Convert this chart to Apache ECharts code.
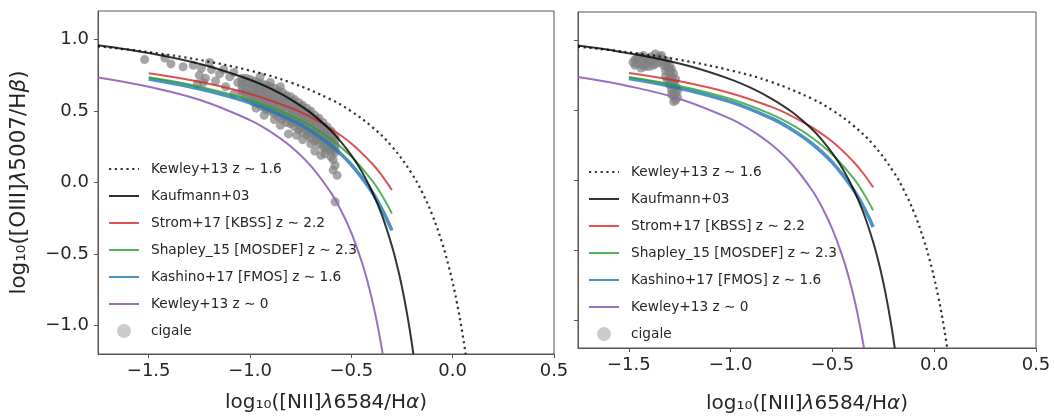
<!DOCTYPE html>
<html><head><meta charset="utf-8">
<script src="https://cdn.jsdelivr.net/npm/echarts@6/dist/echarts.min.js"></script>
<style>html,body{margin:0;padding:0;background:#fff}#c{width:1054px;height:419px}</style>
</head><body><div id="c"></div>
<script>
// ---- tick labels ----
const xTicks = [-1.5, -1.0, -0.5, 0.0, 0.5];
const yTicks = [-1.0, -0.5, 0.0, 0.5, 1.0];

// ---- legend names ----
const names = ['Kewley+13 z ∼ 1.6', 'Kaufmann+03', 'Strom+17 [KBSS] z ∼ 2.2',
  'Shapley_15 [MOSDEF] z ∼ 2.3', 'Kashino+17 [FMOS] z ∼ 1.6', 'Kewley+13 z ∼ 0', 'cigale'];

// ---- curves (x, y) ----
const kewley16 = [[-1.75,0.952],[-1.5,0.912],[-1.25,0.858],[-1.0,0.783],[-0.8,0.700],[-0.6,0.580],[-0.5,0.498],
  [-0.4,0.392],[-0.3,0.253],[-0.2,0.059],[-0.15,-0.070],[-0.1,-0.229],[-0.05,-0.432],[-0.02,-0.584],
  [0.0,-0.701],[0.02,-0.834],[0.04,-0.986],[0.064,-1.2]];
const kauffmann = [[-1.75,0.961],[-1.6,0.930],[-1.4,0.879],[-1.2,0.812],[-1.0,0.719],[-0.9,0.658],[-0.8,0.582],
  [-0.7,0.487],[-0.6,0.362],[-0.55,0.283],[-0.5,0.191],[-0.45,0.080],[-0.4,-0.056],[-0.35,-0.225],
  [-0.3,-0.443],[-0.27,-0.606],[-0.25,-0.733],[-0.23,-0.879],[-0.21,-1.046],[-0.194,-1.2]];
const strom = [[-1.5,0.765],[-1.25,0.705],[-1.0,0.620],[-0.8,0.522],[-0.7,0.457],[-0.6,0.376],[-0.5,0.273],
  [-0.4,0.136],[-0.35,0.050],[-0.3,-0.053]];
const shapley = [[-1.5,0.736],[-1.25,0.671],[-1.0,0.578],[-0.8,0.469],[-0.7,0.395],[-0.6,0.302],[-0.5,0.182],
  [-0.4,0.018],[-0.35,-0.088],[-0.3,-0.217]];
const kashino = [[-1.5,0.725],[-1.25,0.656],[-1.0,0.558],[-0.8,0.441],[-0.7,0.361],[-0.6,0.259],[-0.5,0.124],
  [-0.4,-0.062],[-0.35,-0.184],[-0.3,-0.335]];
const kewley0 = [[-1.75,0.735],[-1.5,0.670],[-1.25,0.579],[-1.0,0.437],[-0.9,0.356],[-0.8,0.253],[-0.7,0.116],
  [-0.6,-0.073],[-0.55,-0.198],[-0.5,-0.352],[-0.45,-0.549],[-0.42,-0.694],[-0.4,-0.806],[-0.38,-0.933],
  [-0.36,-1.079],[-0.345,-1.2]];

// ---- cigale points, left panel ----
const cigaleLeft = [
  [-1.52,0.86],[-1.42,0.87],[-1.39,0.83],[-1.33,0.81],[-1.28,0.82],[-1.24,0.80],[-1.25,0.75],[-1.22,0.73],
  [-1.26,0.69],[-1.23,0.70],[-1.19,0.79],[-1.15,0.76],[-1.17,0.71],[-1.12,0.67],[-1.10,0.74],[-1.08,0.62],
  [-1.06,0.70],[-1.13,0.79],[-1.08,0.77],[-1.20,0.84],[-0.95,0.74],[-0.90,0.70],[-0.85,0.67],
  [-1.04,0.73],[-1.04,0.70],[-1.04,0.67],[-1.04,0.64],[-1.04,0.62],
  [-1.02,0.73],[-1.02,0.70],[-1.02,0.66],[-1.02,0.63],[-1.02,0.60],
  [-1.00,0.72],[-1.00,0.69],[-1.00,0.66],[-1.00,0.62],[-1.00,0.59],
  [-0.98,0.71],[-0.98,0.68],[-0.98,0.65],[-0.98,0.62],[-0.98,0.59],[-0.98,0.56],
  [-0.96,0.70],[-0.96,0.67],[-0.96,0.64],[-0.96,0.61],[-0.96,0.58],[-0.96,0.55],
  [-0.94,0.69],[-0.94,0.66],[-0.94,0.63],[-0.94,0.60],[-0.94,0.56],[-0.94,0.53],
  [-0.92,0.68],[-0.92,0.65],[-0.92,0.62],[-0.92,0.58],[-0.92,0.55],[-0.92,0.51],
  [-0.90,0.67],[-0.90,0.64],[-0.90,0.60],[-0.90,0.57],[-0.90,0.53],[-0.90,0.50],
  [-0.88,0.66],[-0.88,0.62],[-0.88,0.59],[-0.88,0.55],[-0.88,0.52],[-0.88,0.48],
  [-0.86,0.64],[-0.86,0.61],[-0.86,0.57],[-0.86,0.54],[-0.86,0.50],[-0.86,0.46],
  [-0.84,0.63],[-0.84,0.59],[-0.84,0.56],[-0.84,0.52],[-0.84,0.48],[-0.84,0.44],
  [-0.82,0.61],[-0.82,0.58],[-0.82,0.54],[-0.82,0.50],[-0.82,0.46],[-0.82,0.42],
  [-0.80,0.60],[-0.80,0.56],[-0.80,0.52],[-0.80,0.48],[-0.80,0.45],[-0.80,0.41],
  [-0.78,0.58],[-0.78,0.54],[-0.78,0.51],[-0.78,0.47],[-0.78,0.43],[-0.78,0.39],
  [-0.76,0.56],[-0.76,0.52],[-0.76,0.49],[-0.76,0.45],[-0.76,0.41],[-0.76,0.37],
  [-0.74,0.54],[-0.74,0.50],[-0.74,0.47],[-0.74,0.43],[-0.74,0.39],[-0.74,0.35],
  [-0.72,0.52],[-0.72,0.48],[-0.72,0.44],[-0.72,0.41],[-0.72,0.37],[-0.72,0.33],
  [-0.70,0.50],[-0.70,0.46],[-0.70,0.42],[-0.70,0.39],[-0.70,0.35],[-0.70,0.31],
  [-0.68,0.47],[-0.68,0.44],[-0.68,0.40],[-0.68,0.36],[-0.68,0.33],[-0.68,0.29],
  [-0.66,0.45],[-0.66,0.41],[-0.66,0.38],[-0.66,0.34],[-0.66,0.31],[-0.66,0.27],
  [-0.64,0.42],[-0.64,0.39],[-0.64,0.35],[-0.64,0.32],[-0.64,0.28],[-0.64,0.25],
  [-0.62,0.39],[-0.62,0.36],[-0.62,0.33],[-0.62,0.29],[-0.62,0.26],[-0.62,0.23],
  [-0.60,0.36],[-0.60,0.33],[-0.60,0.30],[-0.60,0.27],[-0.60,0.24],[-0.60,0.22],
  [-0.58,0.32],[-0.58,0.29],[-0.58,0.26],[-0.58,0.23],[-0.58,0.21],
  [-0.91,0.655],[-0.91,0.585],[-0.91,0.515],[-0.87,0.63],[-0.87,0.56],[-0.87,0.49],
  [-0.83,0.60],[-0.83,0.53],[-0.83,0.46],[-0.79,0.57],[-0.79,0.50],[-0.79,0.42],
  [-0.75,0.53],[-0.75,0.46],[-0.75,0.38],[-0.71,0.49],[-0.71,0.42],[-0.71,0.34],
  [-0.67,0.44],[-0.67,0.37],[-0.67,0.30],[-0.63,0.38],[-0.63,0.31],[-0.63,0.245],
  [-0.93,0.47],[-0.88,0.44],[-0.81,0.34],[-0.77,0.33],[-0.74,0.30],[-0.70,0.27],[-0.68,0.22],
  [-0.65,0.19],[-0.63,0.20],[-0.59,0.16],[-0.58,0.12],[-0.59,0.087],[-0.57,0.05],[-0.58,-0.135],
  [-0.60,0.18],[-0.85,0.40],[-0.97,0.52]
];
// ---- cigale points, right panel ----
const cigaleRight = [
  [-1.47,0.86],[-1.46,0.83],[-1.45,0.88],[-1.44,0.85],[-1.43,0.82],[-1.42,0.87],[-1.41,0.84],[-1.40,0.81],
  [-1.39,0.88],[-1.38,0.85],[-1.37,0.90],[-1.36,0.87],[-1.35,0.84],[-1.34,0.89],[-1.33,0.86],[-1.32,0.83],
  [-1.44,0.80],[-1.47,0.82],[-1.46,0.87],[-1.43,0.89],[-1.40,0.86],[-1.37,0.83],[-1.35,0.88],[-1.33,0.82],
  [-1.31,0.85],[-1.30,0.82],[-1.48,0.84],[-1.42,0.81],[-1.38,0.82],
  [-1.31,0.80],[-1.30,0.77],[-1.32,0.74],[-1.29,0.74],[-1.31,0.71],[-1.28,0.70],[-1.30,0.68],[-1.27,0.67],
  [-1.29,0.64],[-1.27,0.62],[-1.28,0.60],[-1.26,0.59],[-1.27,0.57],[-1.28,0.56],[-1.26,0.64],[-1.30,0.79],
  [-1.29,0.79],[-1.28,0.76],[-1.30,0.72],[-1.29,0.69],[-1.28,0.65],[-1.29,0.61],[-1.27,0.72],[-1.32,0.78]
];

const font = 'DejaVu Sans';
const txt = '#262626';
const axisCol = '#555';
const fmt = v => (v < 0 ? '\u2212' : '') + Math.abs(v).toFixed(1);
function rich(size) {
  return {
    a: {fontFamily: font, fontSize: size, color: txt},
    i: {fontFamily: font, fontSize: size, color: txt, fontStyle: 'italic'}
  };
}
const xName = '{a|log₁₀([NII]}{i|λ}{a|6584/H}{i|α}{a|)}';
const yName = '{a|log₁₀([OIII]}{i|λ}{a|5007/H}{i|β}{a|)}';

function xAxis(idx, gap) {
  return {
    type: 'value', gridIndex: idx, min: -1.75, max: 0.5,
    name: xName, nameLocation: 'middle', nameGap: gap,
    nameTextStyle: {rich: rich(20)},
    axisLine: {show: true, onZero: false, lineStyle: {color: axisCol, width: 1}},
    axisTick: {show: true, customValues: xTicks, length: 4, lineStyle: {color: axisCol}},
    axisLabel: {customValues: xTicks, formatter: fmt, fontFamily: font, fontSize: 18, color: txt, margin: 8},
    splitLine: {show: false}
  };
}
function yAxis(idx, showLabels) {
  const a = {
    type: 'value', gridIndex: idx, min: -1.2, max: 1.2,
    axisLine: {show: true, onZero: false, lineStyle: {color: axisCol, width: 1}},
    axisTick: {show: true, customValues: yTicks, length: 4, lineStyle: {color: axisCol}},
    axisLabel: {show: showLabels, customValues: yTicks, formatter: fmt, fontFamily: font, fontSize: 18, color: txt, margin: 9},
    splitLine: {show: false}
  };
  if (showLabels) {
    a.name = yName; a.nameLocation = 'middle'; a.nameGap = 68; a.nameRotate = 90;
    a.nameTextStyle = {rich: rich(21.5)};
  }
  return a;
}
function panelSeries(idx, pts) {
  const base = {xAxisIndex: idx, yAxisIndex: idx};
  const line = (name, data, color, width, type) => Object.assign({
    type: 'line', name: name, data: data, symbol: 'none', smooth: 0.4,
    lineStyle: {color: color, width: width, type: type || 'solid'}, itemStyle: {color: color}, z: 3
  }, base);
  return [
    Object.assign({type: 'scatter', name: names[6], data: pts, symbolSize: 9,
      itemStyle: {color: '#808080', opacity: 0.7}, z: 2}, base),
    line(names[5], kewley0, 'rgba(148,103,189,0.95)', 2),
    line(names[4], kashino, 'rgba(31,119,180,0.8)', 3.6),
    line(names[3], shapley, 'rgba(44,160,44,0.8)', 2),
    line(names[2], strom, 'rgba(214,39,40,0.8)', 2),
    line(names[1], kauffmann, 'rgba(0,0,0,0.8)', 2),
    line(names[0], kewley16, 'rgba(0,0,0,0.8)', 2.2, [2.2, 3.6])
  ];
}
function legend(left, top) {
  const data = names.map(n => n === 'cigale'
    ? {name: n, icon: 'circle', itemStyle: {color: '#cbcbcb', opacity: 1}}
    : {name: n});
  return {
    left: left, top: top, orient: 'vertical', data: data,
    itemWidth: 30, itemHeight: 14, itemGap: 13, selectedMode: false,
    itemStyle: {color: 'rgba(0,0,0,0)', borderWidth: 0, opacity: 0},
    textStyle: {fontFamily: font, fontSize: 13.7, color: txt, padding: [0, 0, 0, 7]}
  };
}

const chart = echarts.init(document.getElementById('c'), null, {renderer: 'canvas'});
chart.setOption({
  animation: false,
  backgroundColor: '#fff',
  grid: [
    {left: 98, top: 11, width: 456, height: 343, show: true, borderColor: axisCol, borderWidth: 1},
    {left: 578, top: 12, width: 458, height: 346, show: true, borderColor: axisCol, borderWidth: 1}
  ],
  xAxis: [xAxis(0, 39), xAxis(1, 46)],
  yAxis: [yAxis(0, true), yAxis(1, false)],
  legend: [legend(103, 157), legend(583, 160)],
  series: panelSeries(0, cigaleLeft).concat(panelSeries(1, cigaleRight))
});
</script></body></html>
